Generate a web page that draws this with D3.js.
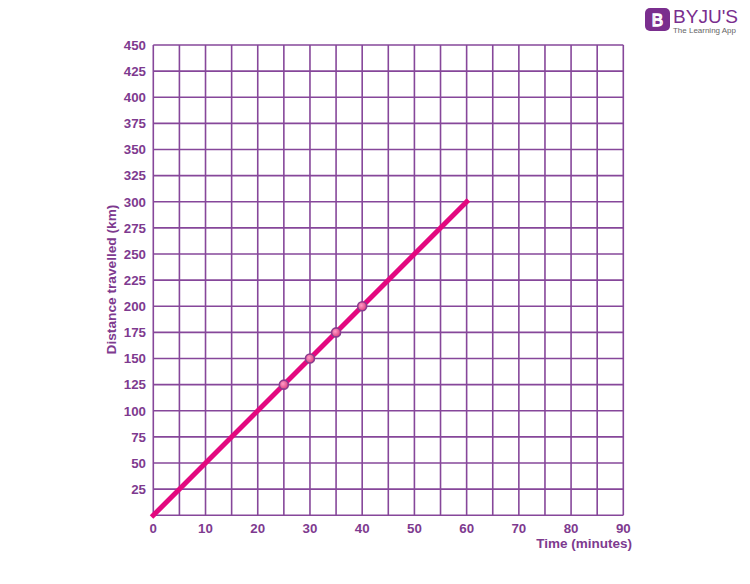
<!DOCTYPE html>
<html><head><meta charset="utf-8">
<script src="https://cdn.jsdelivr.net/npm/d3@7"></script>
<style>body{margin:0;background:#fff}svg{display:block}</style>
</head><body>
<svg id="c" width="750" height="584"></svg>
<script>
const lineTimes = [0, 60];
const lineDistances = [0, 300];
const pointTimes = [25, 30, 35, 40];
const pointDistances = [125, 150, 175, 200];
const xTickLabels = [0, 10, 20, 30, 40, 50, 60, 70, 80, 90];
const yTickLabels = [25, 50, 75, 100, 125, 150, 175, 200, 225, 250, 275, 300, 325, 350, 375, 400, 425, 450];
const xGrid = d3.range(0, 91, 5);
const yGrid = d3.range(0, 451, 25);

const purple = "#7e3a8f", grid = "#86479a", pink = "#e3087f";
const svg = d3.select("#c");
const x = d3.scaleLinear().domain([0, 90]).range([153.3, 623.3]);
const y = d3.scaleLinear().domain([0, 450]).range([515.3, 45]);

const defs = svg.append("defs");
const rg = defs.append("radialGradient").attr("id","pg").attr("cx","40%").attr("cy","40%").attr("r","60%");
rg.append("stop").attr("offset","0%").attr("stop-color","#ff9cc8");
rg.append("stop").attr("offset","100%").attr("stop-color","#e0407f");

const g = svg.append("g");
g.selectAll(".vx").data(xGrid).join("line")
  .attr("x1", d=>x(d)).attr("x2", d=>x(d)).attr("y1", y(0)).attr("y2", y(450))
  .attr("stroke", grid).attr("stroke-width", 1.6);
g.selectAll(".hy").data(yGrid).join("line")
  .attr("y1", d=>y(d)).attr("y2", d=>y(d)).attr("x1", x(0)).attr("x2", x(90))
  .attr("stroke", grid).attr("stroke-width", 1.6);

const font = "'Liberation Sans', Arial, sans-serif";
const fs = 13.3;
g.selectAll(".xt").data(xTickLabels).join("text")
  .attr("x", d=>x(d)).attr("y", 532.5).attr("text-anchor","middle")
  .attr("font-family", font).attr("font-weight","bold").attr("font-size", fs)
  .attr("fill", purple).text(d=>d);
g.selectAll(".yt").data(yTickLabels).join("text")
  .attr("x", 146).attr("y", d=>y(d)).attr("dy","0.36em").attr("text-anchor","end")
  .attr("font-family", font).attr("font-weight","bold").attr("font-size", fs)
  .attr("fill", purple).text(d=>d);

svg.append("text").attr("x", 632).attr("y", 548).attr("text-anchor","end")
  .attr("font-family", font).attr("font-weight","bold").attr("font-size", 13.5)
  .attr("fill", purple).text("Time (minutes)");
svg.append("text").attr("transform","translate(116,279.5) rotate(-90)").attr("text-anchor","middle")
  .attr("font-family", font).attr("font-weight","bold").attr("font-size", 13.7)
  .attr("fill", purple).text("Distance travelled (km)");

const line = d3.line().x(d=>x(d[0])).y(d=>y(d[1]));
svg.append("path").datum(lineTimes.map((t,i)=>[t, lineDistances[i]]))
  .attr("d", line).attr("fill","none").attr("stroke", pink).attr("stroke-width", 5)
  .attr("stroke-linecap","square");

svg.selectAll(".pt").data(pointTimes.map((t,i)=>[t, pointDistances[i]])).join("circle")
  .attr("cx", d=>x(d[0])).attr("cy", d=>y(d[1])).attr("r", 4.5)
  .attr("fill","url(#pg)").attr("stroke","#8a3c8e").attr("stroke-width", 1.6);

// logo
const logo = svg.append("g");
logo.append("rect").attr("x", 645).attr("y", 8).attr("width", 25).attr("height", 23).attr("rx", 5).attr("fill", "#7a2e8e");
logo.append("text").attr("x", 657.5).attr("y", 26).attr("text-anchor","middle")
  .attr("font-family", font).attr("font-size", 17).attr("fill", "none").attr("stroke","#fff").attr("stroke-width",1.3).text("B");
logo.append("text").attr("x", 673).attr("y", 23).attr("font-family", font)
  .attr("font-size", 18).attr("fill", "#7a2e8e").attr("textLength", 65).attr("lengthAdjust","spacingAndGlyphs").text("BYJU'S");
logo.append("text").attr("x", 673).attr("y", 33).attr("font-family", font)
  .attr("font-size", 8).attr("fill", "#666").attr("textLength", 63).attr("lengthAdjust","spacingAndGlyphs").text("The Learning App");
</script>
</body></html>
